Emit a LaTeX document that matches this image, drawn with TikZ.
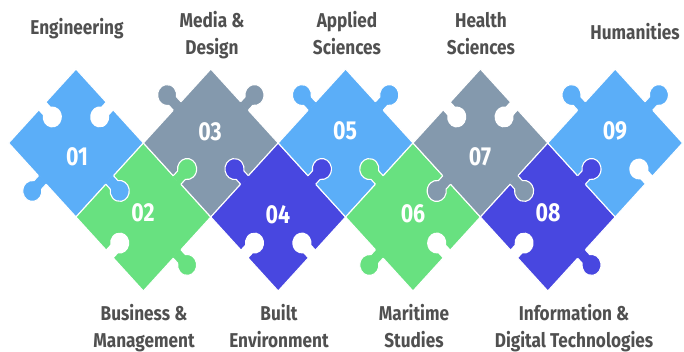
\documentclass[tikz,border=0pt]{standalone}
\usepackage{fontspec}
\newfontfamily\labfont{Fira Sans}[FakeStretch=0.86]
\newfontfamily\numfont{Fira Sans}[FakeStretch=0.82]
\definecolor{pblue}{HTML}{5BAEF8}
\definecolor{pgrey}{HTML}{8499AD}
\definecolor{pgreen}{HTML}{68E180}
\definecolor{pindigo}{HTML}{4847E0}
\definecolor{txt}{HTML}{505050}
\tikzset{
  piece/.style={draw=white, line width=1.1pt},
  outline/.style={draw=white, line width=1.1pt},
  lab/.style={font=\labfont\bfseries\fontsize{20}{20}\selectfont, text=txt, anchor=base, inner sep=0pt},
  num/.style={font=\numfont\bfseries\fontsize{26}{26}\selectfont, text=white, inner sep=0pt}
}
\newcommand\PieceSq[3]{%
  \filldraw[piece, fill=#3] (#1-74,#2) -- (#1,#2+74) -- (#1+74,#2) -- (#1,#2-74) -- cycle;}
\newcommand\PzTab[4]{%
  \begin{scope}[shift={(#1,#2)}, rotate=#3]
    \fill[#4] (-6,51.2) -- (-6,59.21) arc[start angle=235.15,end angle=-55.15,radius=10.5] -- (6,51.2) -- cycle;
    \draw[outline] (-6,52.326) -- (-6,59.21) arc[start angle=235.15,end angle=-55.15,radius=10.5] -- (6,52.326);
  \end{scope}}
\newcommand\PzHole[3]{%
  \begin{scope}[shift={(#1,#2)}, rotate=#3]
    \fill[white] (-6,53.5) -- (-6,45.44) arc[start angle=124.85,end angle=415.15,radius=10.5] -- (6,53.5) -- cycle;
  \end{scope}}
\begin{document}
\begin{tikzpicture}[x=1pt, y=1pt]
\useasboundingbox (0,0) rectangle (684,352);
\begin{scope}[xscale=0.9108]
  % squares
  \PieceSq{83.44}{209}{pblue}
  \PieceSq{157.44}{135}{pgreen}
  \PieceSq{231.44}{209}{pgrey}
  \PieceSq{305.44}{135}{pindigo}
  \PieceSq{379.44}{209}{pblue}
  \PieceSq{453.44}{135}{pgreen}
  \PieceSq{527.44}{209}{pgrey}
  \PieceSq{601.44}{135}{pindigo}
  \PieceSq{675.44}{209}{pblue}
  % holes on outer edges
  \PzHole{83.44}{209}{45}
  \PzHole{83.44}{209}{-45}
  \PzHole{157.44}{135}{135}
  \PzHole{305.44}{135}{135}
  \PzHole{305.44}{135}{-135}
  \PzHole{453.44}{135}{-135}
  \PzHole{527.44}{209}{45}
  \PzHole{527.44}{209}{-45}
  \PzHole{601.44}{135}{135}
  \PzHole{675.44}{209}{-135}
  % tabs
  \PzTab{83.44}{209}{135}{pblue}
  \PzTab{83.44}{209}{-135}{pblue}
  \PzTab{157.44}{135}{-45}{pgreen}
  \PzTab{157.44}{135}{-135}{pgreen}
  \PzTab{231.44}{209}{45}{pgrey}
  \PzTab{231.44}{209}{-45}{pgrey}
  \PzTab{305.44}{135}{45}{pindigo}
  \PzTab{305.44}{135}{-45}{pindigo}
  \PzTab{379.44}{209}{45}{pblue}
  \PzTab{379.44}{209}{-45}{pblue}
  \PzTab{453.44}{135}{45}{pgreen}
  \PzTab{453.44}{135}{135}{pgreen}
  \PzTab{527.44}{209}{135}{pgrey}
  \PzTab{527.44}{209}{-135}{pgrey}
  \PzTab{601.44}{135}{-45}{pindigo}
  \PzTab{601.44}{135}{-135}{pindigo}
  \PzTab{675.44}{209}{45}{pblue}
  \PzTab{675.44}{209}{-45}{pblue}
\end{scope}
% numbers
\node[num] (n01) at (77,195) {01};
\node[num] (n02) at (143,139) {02};
\node[num] (n03) at (210,220) {03};
\node[num] (n04) at (278,137) {04};
\node[num] (n05) at (345,221) {05};
\node[num] (n06) at (413,138) {06};
\node[num] (n07) at (480,195) {07};
\node[num] (n08) at (548,139) {08};
\node[num] (n09) at (615,221) {09};
% labels top
\node[lab] (l01) at (77,317) {Engineering};
\node[lab] (l03a) at (212,324) {Media \&};
\node[lab] (l03b) at (212,297) {Design};
\node[lab] (l05a) at (347,324) {Applied};
\node[lab] (l05b) at (347,297) {Sciences};
\node[lab] (l07a) at (481,324) {Health};
\node[lab] (l07b) at (481,297) {Sciences};
\node[lab] (l09) at (635,312) {Humanities};
% labels bottom
\node[lab] (l02a) at (144,31) {Business \&};
\node[lab] (l02b) at (144,4) {Management};
\node[lab] (l04a) at (279,31) {Built};
\node[lab] (l04b) at (279,4) {Environment};
\node[lab] (l06a) at (414,31) {Maritime};
\node[lab] (l06b) at (414,4) {Studies};
\node[lab] (l08a) at (574,31) {Information \&};
\node[lab] (l08b) at (574,4) {Digital Technologies};
\end{tikzpicture}
\end{document}
